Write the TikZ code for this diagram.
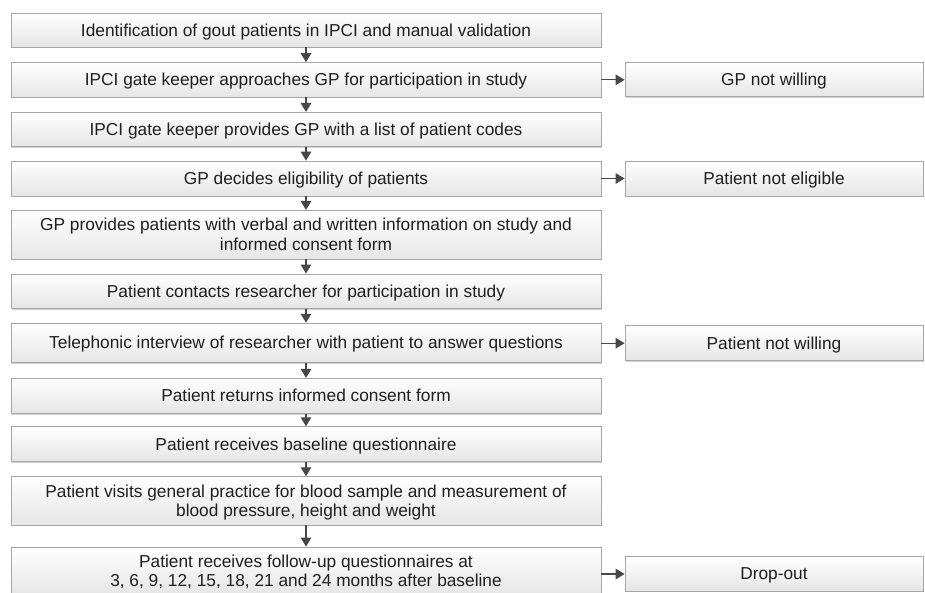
\documentclass[tikz,border=0pt]{standalone}
\usepackage{fontspec}
\setmainfont{Liberation Sans}
\usetikzlibrary{arrows.meta,shadows}

\tikzset{
  stepbox/.style={draw=black!35, line width=0.8pt, top color=white, bottom color=black!10,
    drop shadow={shadow xshift=1.2pt, shadow yshift=-1.2pt, fill=black!18, opacity=1},
    text=black!88, font=\fontsize{17.3}{19.5}\selectfont, align=center, inner sep=0pt,
    text depth=0.5pt},
  leftbox/.style={stepbox, minimum width=590pt},
  rightbox/.style={stepbox, minimum width=298pt},
  arr/.style={draw=black!72, line width=1.4pt, -{Triangle[length=9pt,width=10.5pt]}}
}

\begin{document}
\begin{tikzpicture}[x=1pt,y=-1pt]
\useasboundingbox (0,0) rectangle (925,593);
\clip (0,0) rectangle (925,593);

%main column
\node[leftbox, minimum height=34pt] (b1) at (306,30) {Identification of gout patients in IPCI and manual validation};
\node[leftbox, minimum height=34.5pt] (b2) at (306,79.8) {IPCI gate keeper approaches GP for participation in study};
\node[leftbox, minimum height=34.5pt] (b3) at (306,129.6) {IPCI gate keeper provides GP with a list of patient codes};
\node[leftbox, minimum height=35pt] (b4) at (306,178.5) {GP decides eligibility of patients};
\node[leftbox, minimum height=48.7pt] (b5) at (306,234.7) {GP provides patients with verbal and written information on study and\\informed consent form};
\node[leftbox, minimum height=34.7pt] (b6) at (306,291.3) {Patient contacts researcher for participation in study};
\node[leftbox, minimum height=39.5pt] (b7) at (306,342.9) {Telephonic interview of researcher with patient to answer questions};
\node[leftbox, minimum height=35pt] (b8) at (306,395.8) {Patient returns informed consent form};
\node[leftbox, minimum height=35pt] (b9) at (306,444.2) {Patient receives baseline questionnaire};
\node[leftbox, minimum height=48.3pt] (b10) at (306,500.8) {Patient visits general practice for blood sample and measurement of\\blood pressure, height and weight};
\node[leftbox, minimum height=48pt] (b11) at (306,571) {Patient receives follow-up questionnaires at\\3, 6, 9, 12, 15, 18, 21 and 24 months after baseline};

%exits
\node[rightbox, minimum height=34pt] (r1) at (774,79.8) {GP not willing};
\node[rightbox, minimum height=35pt] (r2) at (774,178.5) {Patient not eligible};
\node[rightbox, minimum height=35pt] (r3) at (774,343.2) {Patient not willing};
\node[rightbox, minimum height=34.3pt] (r4) at (774,574) {Drop-out};

%arrows down
\foreach \a/\b in {b1/b2,b2/b3,b3/b4,b4/b5,b5/b6,b6/b7,b7/b8,b8/b9,b9/b10,b10/b11}
  \draw[arr] (\a.south) -- (\b.north);

%arrows right
\draw[arr] (b2.east) -- (r1.west);
\draw[arr] (b4.east) -- (r2.west);
\draw[arr] (b7.east |- r3.west) -- (r3.west);
\draw[arr] (b11.east |- r4.west) -- (r4.west);
\end{tikzpicture}
\end{document}
